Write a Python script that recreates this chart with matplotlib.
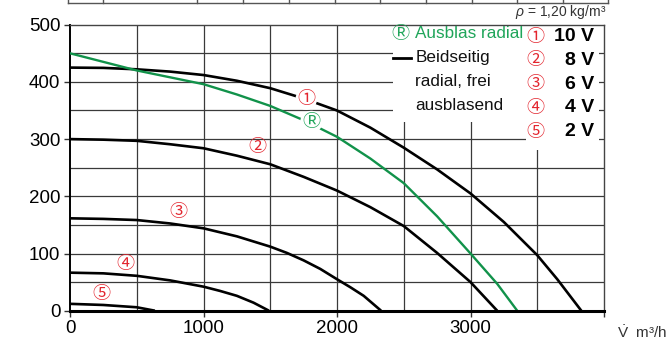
import matplotlib
matplotlib.use("Agg")
import matplotlib.pyplot as plt
from matplotlib import font_manager
from matplotlib.patches import Rectangle
from matplotlib.lines import Line2D

# ---------------- data ----------------
flow_10v = [0, 250, 500, 750, 1000, 1250, 1500, 1750, 2000, 2250, 2500, 2750, 3000, 3250, 3500, 3650, 3830]
pres_10v = [425, 424.5, 422, 418, 412, 402, 389, 371, 350, 320, 285, 247, 205, 155, 97, 55, 0]

flow_8v = [0, 250, 500, 750, 1000, 1250, 1500, 1750, 2000, 2250, 2500, 2750, 3000, 3200]
pres_8v = [300, 299, 297, 291, 284, 271, 256, 234, 210, 181, 148, 101, 50, 0]

flow_6v = [0, 250, 500, 750, 1000, 1250, 1500, 1625, 1750, 1875, 2000, 2100, 2200, 2330]
pres_6v = [161.5, 160.5, 158.5, 152.5, 144, 130, 112, 101, 88, 73, 55, 41, 26, 0]

flow_4v = [0, 250, 500, 750, 1000, 1125, 1250, 1375, 1490]
pres_4v = [66.5, 65.3, 61, 53, 42, 34.5, 26, 14, 0]

flow_2v = [0, 250, 500, 636]
pres_2v = [12, 10, 6, 0]

flow_radial = [0, 250, 500, 750, 1000, 1250, 1500, 1750, 2000, 2250, 2500, 2750, 3000, 3200, 3350]
pres_radial = [450, 435, 420, 408, 396, 378, 358, 333, 304, 266, 223, 165, 100, 47, 0]

x_ticks = [0, 1000, 2000, 3000, 4000]
x_tick_labels = ["0", "1000", "2000", "3000", ""]
y_ticks = [0, 100, 200, 300, 400, 500]

voltage_labels = ["10 V", "8 V", "6 V", "4 V", "2 V"]
circled = ["\u2460", "\u2461", "\u2462", "\u2463", "\u2464"]
curve_label_pos = [(1770, 370), (1404, 287), (815, 172), (416, 82), (237, 30)]

# ---------------- fonts ----------------
def has_font(name):
    try:
        font_manager.findfont(font_manager.FontProperties(family=name), fallback_to_default=False)
        return True
    except Exception:
        return False

NARROW = "Liberation Sans Narrow" if has_font("Liberation Sans Narrow") else None
plt.rcParams["font.family"] = ["Liberation Sans", "DejaVu Sans"]
plt.rcParams["mathtext.fontset"] = "custom"
plt.rcParams["mathtext.rm"] = "Liberation Sans"
plt.rcParams["mathtext.it"] = "Liberation Sans:italic"

if NARROW:
    leg_font = dict(family=[NARROW, "DejaVu Sans"], fontsize=13.5)
else:
    leg_font = dict(family=["Liberation Sans", "DejaVu Sans"], fontsize=12.3)

CIRC_FAMILY = ["Noto Sans CJK JP", "DejaVu Sans"]

RED = "#e3262f"
GREEN_LINE = "#11924a"
GREEN_TEXT = "#20a55a"
GRID = "#3a3a3a"

W, H = 666, 341
fig = plt.figure(figsize=(W / 100, H / 100), dpi=100)
ax = fig.add_axes([70 / W, 1 - 310.7 / H, 534 / W, (310.7 - 24.7) / H])

ax.set_xlim(0, 4000)
ax.set_ylim(0, 500)

# grid
for gx in range(500, 4000, 500):
    ax.axvline(gx, color=GRID, lw=0.9, zorder=1)
for gy in range(50, 500, 50):
    ax.axhline(gy, color=GRID, lw=0.9, zorder=1)

# white legend area covering grid
ax.add_patch(Rectangle((2416, 330), 3964 - 2416, 170, facecolor="white", edgecolor="none", zorder=2))
ax.add_patch(Rectangle((3418, 281), 3964 - 3418, 60, facecolor="white", edgecolor="none", zorder=2))

# curves
for fx, py in [(flow_10v, pres_10v), (flow_8v, pres_8v), (flow_6v, pres_6v),
               (flow_4v, pres_4v), (flow_2v, pres_2v)]:
    ax.plot(fx, py, color="black", lw=1.9, zorder=3, solid_capstyle="butt",
            solid_joinstyle="round")
ax.plot(flow_radial, pres_radial, color=GREEN_LINE, lw=1.7, zorder=3,
        solid_joinstyle="round")

# curve labels
for i, (lx, ly) in enumerate(curve_label_pos):
    bb = dict(boxstyle="circle,pad=0.1", fc="white", ec="none") if i == 0 else None
    ax.text(lx, ly, circled[i], color=RED, fontsize=13, family=CIRC_FAMILY,
            ha="center", va="center", zorder=5, bbox=bb)
ax.text(1808, 330, "\u24C7", color=GREEN_TEXT, fontsize=13, family=CIRC_FAMILY,
        ha="center", va="center", zorder=5,
        bbox=dict(boxstyle="circle,pad=0.12", fc="white", ec="none"))

# legend text
ax.text(2478, 484, "\u24C7", color=GREEN_TEXT, fontsize=13, family=CIRC_FAMILY,
        ha="center", va="center", zorder=5)
ax.text(2588, 484, "Ausblas radial", color=GREEN_TEXT, ha="left", va="center", zorder=5, **leg_font)
ax.add_line(Line2D([2416, 2558], [442, 442], color="black", lw=2.0, zorder=5))
for txt, yy in [("Beidseitig", 442), ("radial, frei", 400), ("ausblasend", 358)]:
    ax.text(2588, yy, txt, color="#111111", ha="left", va="center", zorder=5, **leg_font)

for i, lab in enumerate(voltage_labels):
    yy = 479 - i * 41.5
    ax.text(3485, yy, circled[i], color=RED, fontsize=13, family=CIRC_FAMILY,
            ha="center", va="center", zorder=5)
    ax.text(3925, yy, lab, color="black", fontsize=14, fontweight="bold",
            ha="right", va="center", zorder=5)

# spines / ticks
for s in ["top", "right"]:
    ax.spines[s].set_linewidth(1.0)
    ax.spines[s].set_color("#444444")
ax.spines["left"].set_linewidth(1.4)
ax.spines["bottom"].set_linewidth(2.2)
ax.spines["bottom"].set_zorder(4)
ax.set_xticks(x_ticks)
ax.set_xticklabels(x_tick_labels)
ax.set_yticks(y_ticks)
ax.set_yticklabels([str(v) for v in y_ticks])
ax.tick_params(axis="both", direction="out", length=4, width=1.0, labelsize=13.5,
               color="#333333", pad=3)

# axis unit label
fig.text(617 / W, 1 - 333 / H, r"$\dot{\rm V}$  m³/h", fontsize=11, color="#333333",
         ha="left", va="center")

# density note
fig.text(606 / W, 1 - 12 / H, r"$\rho$ = 1,20 kg/m³", fontsize=10, color="#333333",
         ha="right", va="center")

# remnant of table above
fig.add_artist(Line2D([68 / W, 608 / W], [1 - 3 / H, 1 - 3 / H], color="#555555", lw=1.0))
for vx in [68, 103, 197, 243, 289, 335, 380, 426, 472, 517, 563, 608]:
    fig.add_artist(Line2D([vx / W, vx / W], [1 - 3 / H, 1.0], color="#555555", lw=1.0))

fig.savefig("out.png", dpi=100)
